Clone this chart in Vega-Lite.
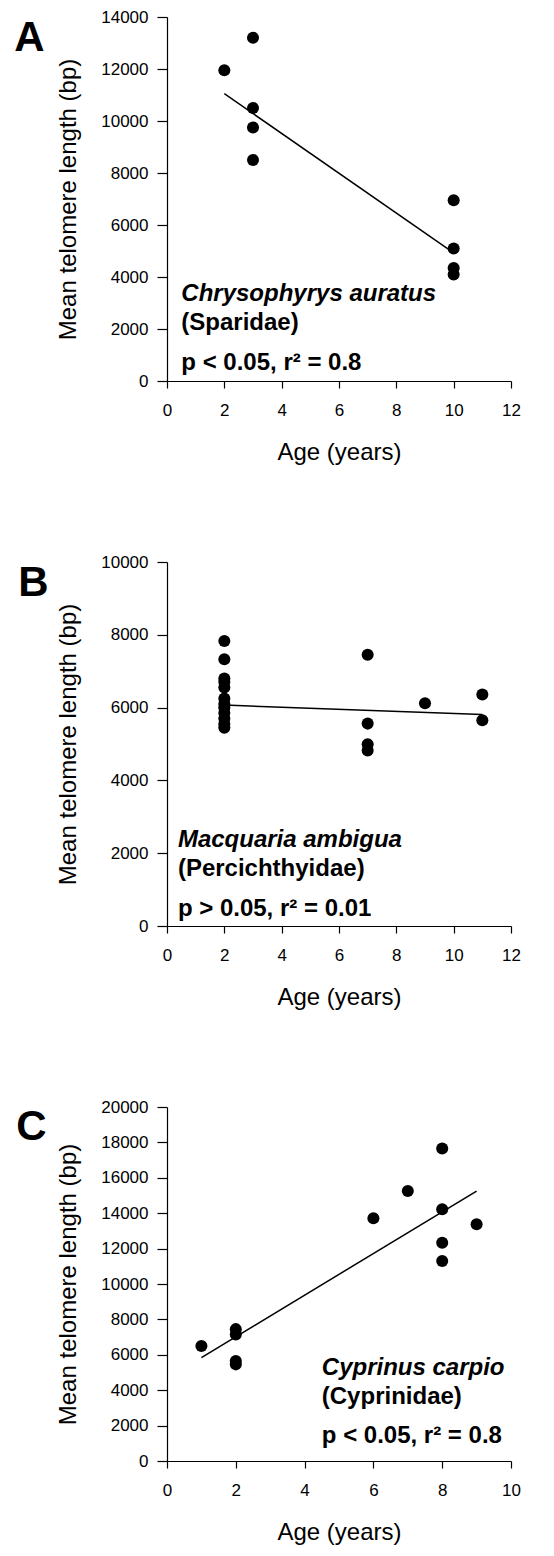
{
  "$schema": "https://vega.github.io/schema/vega-lite/v6.json",
  "background": "white",
  "padding": {"left": 14, "top": 8, "right": 10, "bottom": 5},
  "spacing": 181,
  "bounds": "flush",
  "vconcat": [
    {
      "width": 344,
      "height": 364,
      "layer": [
        {
          "data": {"values": [
            {"age": 2, "tl": 11950},
            {"age": 3, "tl": 13200},
            {"age": 3, "tl": 10500},
            {"age": 3, "tl": 9750},
            {"age": 3, "tl": 8500},
            {"age": 10, "tl": 6950},
            {"age": 10, "tl": 5100},
            {"age": 10, "tl": 4350},
            {"age": 10, "tl": 4100}
          ]},
          "mark": {"type": "circle", "size": 145, "color": "black", "opacity": 1},
          "encoding": {
            "x": {"field": "age", "type": "quantitative", "title": "Age (years)", "scale": {"domain": [0, 12], "nice": false}, "axis": {"values": [0, 2, 4, 6, 8, 10, 12], "tickCount": 20, "format": "d", "labelOverlap": false}},
            "y": {"field": "tl", "type": "quantitative", "title": "Mean telomere length (bp)", "scale": {"domain": [0, 14000], "nice": false}, "axis": {"values": [0, 2000, 4000, 6000, 8000, 10000, 12000, 14000], "tickCount": 20, "format": "d", "labelOverlap": false}}
          }
        },
        {
          "data": {"values": [{"age": 2, "tl": 11050}, {"age": 10, "tl": 4930}]},
          "mark": {"type": "line", "color": "black", "strokeWidth": 1.5},
          "encoding": {
            "x": {"field": "age", "type": "quantitative", "title": "Age (years)"},
            "y": {"field": "tl", "type": "quantitative", "title": "Mean telomere length (bp)"}
          }
        },
        {
          "data": {"values": [{}]},
          "mark": {"type": "text", "align": "left", "baseline": "alphabetic", "fontSize": 42, "fontWeight": "bold", "color": "black"},
          "encoding": {"x": {"datum": -5.33, "type": "quantitative", "title": "Age (years)"}, "y": {"datum": 12690, "type": "quantitative", "title": "Mean telomere length (bp)"}, "text": {"value": "A"}}
        },
        {
          "data": {"values": [{}]},
          "mark": {"type": "text", "align": "left", "baseline": "alphabetic", "fontSize": 24, "fontWeight": "bold", "fontStyle": "italic", "color": "black"},
          "encoding": {"x": {"datum": 0.5, "type": "quantitative", "title": "Age (years)"}, "y": {"datum": 3077, "type": "quantitative", "title": "Mean telomere length (bp)"}, "text": {"value": "Chrysophyrys auratus"}}
        },
        {
          "data": {"values": [{}]},
          "mark": {"type": "text", "align": "left", "baseline": "alphabetic", "fontSize": 24, "fontWeight": "bold", "color": "black"},
          "encoding": {"x": {"datum": 0.5, "type": "quantitative", "title": "Age (years)"}, "y": {"datum": 1950, "type": "quantitative", "title": "Mean telomere length (bp)"}, "text": {"value": "(Sparidae)"}}
        },
        {
          "data": {"values": [{}]},
          "mark": {"type": "text", "align": "left", "baseline": "alphabetic", "fontSize": 24, "fontWeight": "bold", "color": "black"},
          "encoding": {"x": {"datum": 0.5, "type": "quantitative", "title": "Age (years)"}, "y": {"datum": 411, "type": "quantitative", "title": "Mean telomere length (bp)"}, "text": {"value": "p < 0.05, r² = 0.8"}}
        }
      ]
    },
    {
      "width": 344,
      "height": 364,
      "layer": [
        {
          "data": {"values": [
            {"age": 2, "tl": 7830},
            {"age": 2, "tl": 7330},
            {"age": 2, "tl": 6800},
            {"age": 2, "tl": 6700},
            {"age": 2, "tl": 6550},
            {"age": 2, "tl": 6250},
            {"age": 2, "tl": 6100},
            {"age": 2, "tl": 6000},
            {"age": 2, "tl": 5850},
            {"age": 2, "tl": 5700},
            {"age": 2, "tl": 5550},
            {"age": 2, "tl": 5450},
            {"age": 7, "tl": 7450},
            {"age": 7, "tl": 5560},
            {"age": 7, "tl": 4990},
            {"age": 7, "tl": 4820},
            {"age": 9, "tl": 6120},
            {"age": 11, "tl": 6360},
            {"age": 11, "tl": 5650}
          ]},
          "mark": {"type": "circle", "size": 145, "color": "black", "opacity": 1},
          "encoding": {
            "x": {"field": "age", "type": "quantitative", "title": "Age (years)", "scale": {"domain": [0, 12], "nice": false}, "axis": {"values": [0, 2, 4, 6, 8, 10, 12], "tickCount": 20, "format": "d", "labelOverlap": false}},
            "y": {"field": "tl", "type": "quantitative", "title": "Mean telomere length (bp)", "scale": {"domain": [0, 10000], "nice": false}, "axis": {"values": [0, 2000, 4000, 6000, 8000, 10000], "tickCount": 20, "format": "d", "labelOverlap": false}}
          }
        },
        {
          "data": {"values": [{"age": 2, "tl": 6070}, {"age": 11, "tl": 5810}]},
          "mark": {"type": "line", "color": "black", "strokeWidth": 1.5},
          "encoding": {
            "x": {"field": "age", "type": "quantitative", "title": "Age (years)"},
            "y": {"field": "tl", "type": "quantitative", "title": "Mean telomere length (bp)"}
          }
        },
        {
          "data": {"values": [{}]},
          "mark": {"type": "text", "align": "left", "baseline": "alphabetic", "fontSize": 42, "fontWeight": "bold", "color": "black"},
          "encoding": {"x": {"datum": -5.19, "type": "quantitative", "title": "Age (years)"}, "y": {"datum": 9054, "type": "quantitative", "title": "Mean telomere length (bp)"}, "text": {"value": "B"}}
        },
        {
          "data": {"values": [{}]},
          "mark": {"type": "text", "align": "left", "baseline": "alphabetic", "fontSize": 24, "fontWeight": "bold", "fontStyle": "italic", "color": "black"},
          "encoding": {"x": {"datum": 0.38, "type": "quantitative", "title": "Age (years)"}, "y": {"datum": 2162, "type": "quantitative", "title": "Mean telomere length (bp)"}, "text": {"value": "Macquaria ambigua"}}
        },
        {
          "data": {"values": [{}]},
          "mark": {"type": "text", "align": "left", "baseline": "alphabetic", "fontSize": 24, "fontWeight": "bold", "color": "black"},
          "encoding": {"x": {"datum": 0.38, "type": "quantitative", "title": "Age (years)"}, "y": {"datum": 1364, "type": "quantitative", "title": "Mean telomere length (bp)"}, "text": {"value": "(Percichthyidae)"}}
        },
        {
          "data": {"values": [{}]},
          "mark": {"type": "text", "align": "left", "baseline": "alphabetic", "fontSize": 24, "fontWeight": "bold", "color": "black"},
          "encoding": {"x": {"datum": 0.38, "type": "quantitative", "title": "Age (years)"}, "y": {"datum": 285, "type": "quantitative", "title": "Mean telomere length (bp)"}, "text": {"value": "p > 0.05, r² = 0.01"}}
        }
      ]
    },
    {
      "width": 344,
      "height": 354,
      "layer": [
        {
          "data": {"values": [
            {"age": 1, "tl": 6500},
            {"age": 2, "tl": 7450},
            {"age": 2, "tl": 7150},
            {"age": 2, "tl": 5650},
            {"age": 2, "tl": 5460},
            {"age": 6, "tl": 13710},
            {"age": 7, "tl": 15250},
            {"age": 8, "tl": 17660},
            {"age": 8, "tl": 14220},
            {"age": 8, "tl": 12330},
            {"age": 8, "tl": 11300},
            {"age": 9, "tl": 13370}
          ]},
          "mark": {"type": "circle", "size": 145, "color": "black", "opacity": 1},
          "encoding": {
            "x": {"field": "age", "type": "quantitative", "title": "Age (years)", "scale": {"domain": [0, 10], "nice": false}, "axis": {"values": [0, 2, 4, 6, 8, 10], "tickCount": 20, "format": "d", "labelOverlap": false}},
            "y": {"field": "tl", "type": "quantitative", "title": "Mean telomere length (bp)", "scale": {"domain": [0, 20000], "nice": false}, "axis": {"values": [0, 2000, 4000, 6000, 8000, 10000, 12000, 14000, 16000, 18000, 20000], "tickCount": 20, "format": "d", "labelOverlap": false}}
          }
        },
        {
          "data": {"values": [{"age": 1, "tl": 5840}, {"age": 9, "tl": 15250}]},
          "mark": {"type": "line", "color": "black", "strokeWidth": 1.5},
          "encoding": {
            "x": {"field": "age", "type": "quantitative", "title": "Age (years)"},
            "y": {"field": "tl", "type": "quantitative", "title": "Mean telomere length (bp)"}
          }
        },
        {
          "data": {"values": [{}]},
          "mark": {"type": "text", "align": "left", "baseline": "alphabetic", "fontSize": 42, "fontWeight": "bold", "color": "black"},
          "encoding": {"x": {"datum": -4.38, "type": "quantitative", "title": "Age (years)"}, "y": {"datum": 18130, "type": "quantitative", "title": "Mean telomere length (bp)"}, "text": {"value": "C"}}
        },
        {
          "data": {"values": [{}]},
          "mark": {"type": "text", "align": "left", "baseline": "alphabetic", "fontSize": 24, "fontWeight": "bold", "fontStyle": "italic", "color": "black"},
          "encoding": {"x": {"datum": 4.5, "type": "quantitative", "title": "Age (years)"}, "y": {"datum": 4860, "type": "quantitative", "title": "Mean telomere length (bp)"}, "text": {"value": "Cyprinus carpio"}}
        },
        {
          "data": {"values": [{}]},
          "mark": {"type": "text", "align": "left", "baseline": "alphabetic", "fontSize": 24, "fontWeight": "bold", "color": "black"},
          "encoding": {"x": {"datum": 4.5, "type": "quantitative", "title": "Age (years)"}, "y": {"datum": 3200, "type": "quantitative", "title": "Mean telomere length (bp)"}, "text": {"value": "(Cyprinidae)"}}
        },
        {
          "data": {"values": [{}]},
          "mark": {"type": "text", "align": "left", "baseline": "alphabetic", "fontSize": 24, "fontWeight": "bold", "color": "black"},
          "encoding": {"x": {"datum": 4.5, "type": "quantitative", "title": "Age (years)"}, "y": {"datum": 1030, "type": "quantitative", "title": "Mean telomere length (bp)"}, "text": {"value": "p < 0.05, r² = 0.8"}}
        }
      ]
    }
  ],
  "config": {
    "font": "Liberation Sans",
    "view": {"stroke": null},
    "axis": {
      "grid": false,
      "domainColor": "black",
      "tickColor": "black",
      "labelColor": "black",
      "titleColor": "black",
      "labelFont": "Liberation Sans",
      "titleFont": "Liberation Sans",
      "labelFontSize": 17,
      "titleFontSize": 24,
      "titleFontWeight": "normal",
      "domainWidth": 1.2,
      "tickWidth": 1.2,
      "labelFlush": false,
      "labelOverlap": false
    },
    "axisX": {"tickSize": 7, "labelPadding": 14, "titlePadding": 22},
    "axisY": {"tickSize": 10, "labelPadding": 9, "titlePadding": 20}
  }
}
